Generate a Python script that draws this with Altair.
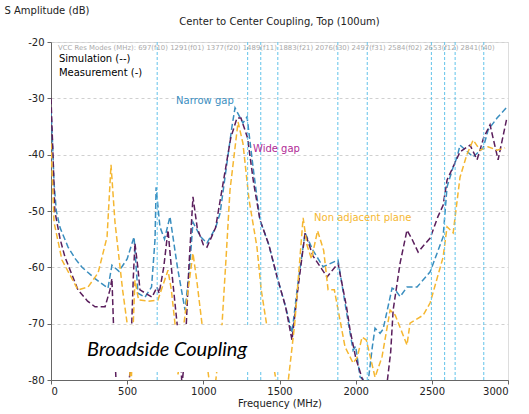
import altair as alt
import pandas as pd

# ---- data ----
narrow_f = [0, 10, 20, 35, 60, 112, 160, 204, 289, 374, 400, 446, 500, 545, 571, 617, 660, 683, 690, 715, 745, 781, 830, 880, 910, 932, 980, 1024, 1080, 1110, 1155, 1188, 1208, 1260, 1287, 1330, 1372, 1430, 1484, 1540, 1582, 1620, 1668, 1720, 1786, 1884, 1940, 1983, 2000, 2029, 2081, 2110, 2127, 2160, 2180, 2239, 2260, 2292, 2337, 2403, 2489, 2574, 2600, 2640, 2666, 2685, 2771, 2837, 2870, 2928, 2994]
narrow_db = [-32, -38, -45, -50, -53, -56.4, -58.5, -60, -62, -63.7, -59.6, -60.7, -58.5, -54.6, -64.6, -65.3, -63.5, -55, -45.8, -52.8, -55, -51, -60, -67.6, -60, -52, -54.5, -55.7, -53, -50.4, -41.5, -35, -31.7, -34.4, -33.3, -43, -51.6, -56, -61.7, -67, -71.6, -63, -53.9, -57, -59.9, -58.7, -68, -74.7, -74, -79.5, -80.5, -74, -70.8, -71.7, -71, -63.7, -64, -65.2, -63.5, -63.5, -60.8, -54.6, -45.7, -42.2, -40.4, -38.3, -40.4, -38.8, -35.6, -33.5, -31.5]

wide_f = [0, 13, 25, 60, 92, 177, 240, 289, 355, 387, 400, 410, 430, 500, 519, 540, 551, 570, 584, 663, 696, 710, 740, 768, 790, 820, 847, 860, 880, 905, 932, 960, 1000, 1024, 1080, 1130, 1180, 1221, 1247, 1290, 1330, 1372, 1430, 1484, 1540, 1582, 1620, 1668, 1720, 1812, 1884, 1940, 1963, 2000, 2042, 2080, 2200, 2230, 2246, 2292, 2337, 2370, 2410, 2450, 2489, 2540, 2574, 2600, 2685, 2751, 2797, 2840, 2882, 2935, 2994]
wide_db = [-30, -40, -50, -55, -58.2, -64, -66, -67, -67, -64, -62, -70, -82, -82, -78.8, -62, -55.7, -60, -64, -65.3, -63.5, -64.6, -60, -53.4, -60, -68, -75, -81, -75, -60, -47.5, -53, -56, -56.4, -53, -45, -37, -33.5, -33.5, -37, -45, -51.6, -56, -61.7, -67, -72.9, -64, -53.9, -58, -61.7, -59.3, -67, -71.1, -76, -79.7, -82, -82, -75, -67.6, -59.2, -53.4, -55, -57.3, -56, -54.8, -51, -49, -44.5, -39.5, -38.3, -40.9, -37, -34.7, -40.9, -33.3]

nonadj_f = [0, 20, 72, 177, 243, 309, 368, 394, 420, 470, 500, 525, 540, 551, 575, 640, 702, 768, 790, 814, 834, 850, 900, 932, 960, 991, 1040, 1080, 1123, 1150, 1175, 1228, 1260, 1300, 1352, 1380, 1418, 1458, 1480, 1556, 1600, 1655, 1680, 1710, 1750, 1790, 1819, 1860, 1930, 1983, 2010, 2042, 2070, 2127, 2173, 2226, 2260, 2337, 2357, 2443, 2489, 2574, 2600, 2640, 2685, 2730, 2771, 2817, 2869, 2928, 2981]
nonadj_db = [-38, -52, -58.7, -64, -63.5, -61, -54.6, -41.8, -52, -64, -70, -82, -70, -62.3, -65.8, -66, -65.8, -60.5, -64, -70, -79, -75, -64, -57.5, -63, -70, -80.5, -80.5, -70, -58, -46.3, -34.2, -38, -48, -56.4, -64, -70.6, -77, -80.5, -80.5, -70, -51.2, -56, -58.5, -53.5, -57, -64, -64, -74.1, -77, -76, -72.4, -72.9, -79.5, -75.9, -67.6, -68.5, -73.8, -69.9, -68.5, -66.3, -58.2, -52.8, -53.9, -44, -40, -37.4, -39.2, -38.6, -39.2, -38.8]

series_names = ["Narrow gap", "Wide gap", "Non adjacent plane"]
series_colors = ["#3a8ebf", "#5a1e5c", "#f5b731"]
label_colors = ["#3a8ebf", "#b02a96", "#f5b731"]

res_modes = [697, 1291, 1377, 1489, 1883, 2076, 2497, 2584, 2653, 2841]
res_names = ["f10", "f01", "f20", "f11", "f21", "f30", "f31", "f02", "f12", "f40"]

x_ticks = [0, 500, 1000, 1500, 2000, 2500, 3000]
y_ticks = [-80, -70, -60, -50, -40, -30, -20]

title_text = "Center to Center Coupling, Top (100um)"

# ---- tables ----
rows = []
for name, fs, ds in [(series_names[0], narrow_f, narrow_db),
                     (series_names[1], wide_f, wide_db),
                     (series_names[2], nonadj_f, nonadj_db)]:
    for i, (f, d) in enumerate(zip(fs, ds)):
        rows.append({"series": name, "f": f, "db": d, "i": i})
curves = pd.DataFrame(rows)

modes_df = pd.DataFrame({"f": res_modes})

res_text = "VCC Res Modes (MHz): " + " ".join(f"{m}({n})" for m, n in zip(res_modes, res_names))

xs = alt.Scale(domain=[0, 3000], nice=False, zero=False)
ys = alt.Scale(domain=[-80, -20], nice=False, zero=False)

base_font = "DejaVu Sans"

x_axis = alt.Axis(values=x_ticks, title="Frequency (MHz)", grid=False,
                  labelExpr="'' + datum.value",
                  labelFont=base_font, labelFontSize=10, labelColor="#222",
                  titleFont=base_font, titleFontSize=10, titleFontWeight="normal",
                  titleColor="#222", titlePadding=2, tickSize=4,
                  domainColor="#666", tickColor="#666", labelPadding=2)
y_axis = alt.Axis(values=y_ticks, title="S Amplitude (dB)", grid=True,
                  labelExpr="'' + datum.value",
                  gridDash=[3, 3], gridColor="#d0d0d0",
                  labelFont=base_font, labelFontSize=10, labelColor="#222",
                  titleFont=base_font, titleFontSize=10, titleFontWeight="normal",
                  titleColor="#222", titleAngle=0, titleAlign="left",
                  titleBaseline="middle", titleX=-47, titleY=-32,
                  tickSize=4, domainColor="#666", tickColor="#666", labelPadding=3)


def X():
    return alt.X("f:Q", scale=xs, axis=x_axis)


def Y():
    return alt.Y("db:Q", scale=ys, axis=y_axis)


lines = alt.Chart(curves).mark_line(strokeDash=[6, 3], strokeWidth=1.5, clip=True).encode(
    x=X(), y=Y(),
    color=alt.Color("series:N", scale=alt.Scale(domain=series_names, range=series_colors), legend=None),
    order="i:Q")

modes = alt.Chart(modes_df).mark_rule(color="#62c3ea", strokeDash=[3, 2], strokeWidth=1).encode(x=X())

box_df = pd.DataFrame({"f": [8], "f2": [1500], "db": [-70.3], "db2": [-78.6]})
box = alt.Chart(box_df).mark_rect(color="white").encode(x=X(), x2="f2:Q", y=Y(), y2="db2:Q")

broad_df = pd.DataFrame({"f": [762], "db": [-74.6], "t": ["Broadside Coupling"]})
broad = alt.Chart(broad_df).mark_text(font="Lato", fontStyle="italic", fontSize=20,
                                      color="black", align="center", baseline="middle").encode(
    x=X(), y=Y(), text="t:N")

lab_df = pd.DataFrame({"f": [821, 1326, 1727], "db": [-30.5, -39.0, -51.2], "t": series_names})
labels = alt.Chart(lab_df).mark_text(font=base_font, fontSize=10, align="left", baseline="middle").encode(
    x=X(), y=Y(), text="t:N",
    color=alt.Color("t:N", scale=alt.Scale(domain=series_names, range=label_colors), legend=None))

info_df = pd.DataFrame({"f": [46], "db": [-21.1], "t": [res_text]})
info = alt.Chart(info_df).mark_text(font=base_font, fontSize=6.9, color="#aaaaaa", align="left",
                                    baseline="middle").encode(x=X(), y=Y(), text="t:N")

leg_df = pd.DataFrame({"f": [52, 52], "db": [-23.0, -25.5], "t": ["Simulation (--)", "Measurement (-)"]})
leg = alt.Chart(leg_df).mark_text(font=base_font, fontSize=10, color="black", align="left",
                                  baseline="middle").encode(x=X(), y=Y(), text="t:N")

title_df = pd.DataFrame({"t": [title_text]})
title = alt.Chart(title_df).mark_text(font=base_font, fontSize=10, color="#222", align="center",
                                      baseline="middle").encode(
    x=alt.value(228.5), y=alt.value(-20), text="t:N")

chart = alt.layer(lines, modes, box, broad, labels, info, leg, title).properties(
    width=457, height=338,
    autosize=alt.AutoSizeParams(type="none"),
    padding={"left": 51, "top": 42, "right": 21, "bottom": 34},
).resolve_scale(color="independent").configure_view(stroke="#999", strokeWidth=1).configure(background="white")

chart.save("out.html", embed_options={"renderer": "svg", "actions": False})
